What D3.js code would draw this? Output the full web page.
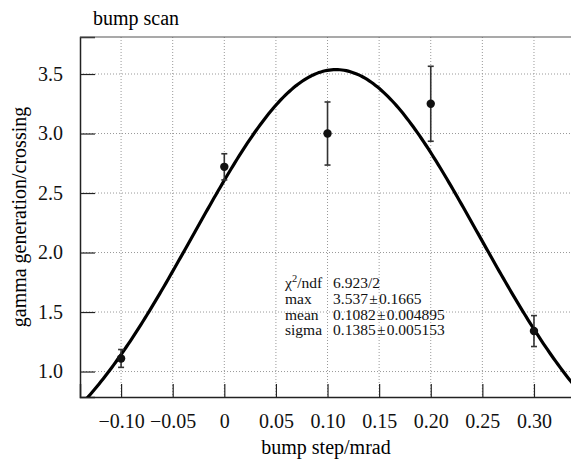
<!DOCTYPE html>
<html lang="en">
<head>
  <meta charset="UTF-8">
  <title>bump scan</title>
  <style>
    body { margin: 0; background: #fff; }
    svg, svg text { font-family: "Liberation Serif", "Times New Roman", "DejaVu Serif", serif; }
  </style>
</head>
<body>
  <script src="https://d3js.org/d3.v7.min.js"></script>
  <script>
    const SVGWIDTH = 571;
    const SVGHEIGHT = 462;
    const FONT = '"Liberation Serif", "Times New Roman", serif';
    const margin = {top: 37, right: -12, bottom: 65, left: 80};
    const innerWidth = SVGWIDTH - margin.left - margin.right;
    const innerHeight = SVGHEIGHT - margin.top - margin.bottom;

    // data
    const steps = [-0.10, 0.00, 0.10, 0.20, 0.30];
    const gammas = [1.11, 2.72, 3.00, 3.25, 1.34];
    const errors = [0.075, 0.11, 0.265, 0.315, 0.13];
    const xTicks = [-0.10, -0.05, 0, 0.05, 0.10, 0.15, 0.20, 0.25, 0.30];
    const xTickLabels = ['\u22120.10', '\u22120.05', '0', '0.05', '0.10', '0.15', '0.20', '0.25', '0.30'];
    const yTicks = [1.0, 1.5, 2.0, 2.5, 3.0, 3.5];
    const fitNames = ['max', 'mean', 'sigma'];
    const fitValues = [3.537, 0.1082, 0.1385];
    const fitErrors = ['0.1665', '0.004895', '0.005153'];
    const chi2ndf = '6.923/2';

    const [amp, mu, sigma] = fitValues;
    const gauss = (x) => amp * Math.exp(-0.5 * ((x - mu) / sigma) ** 2);

    const xScale = d3.scaleLinear().domain([-0.1398, 0.3475]).range([0, innerWidth]);
    const yScale = d3.scaleLinear().domain([0.786, 3.811]).range([innerHeight, 0]);

    const svg = d3.select('body').append('svg')
      .attr('width', SVGWIDTH)
      .attr('height', SVGHEIGHT)
      .attr('font-family', FONT);

    svg.append('text')
      .attr('x', 93).attr('y', 25)
      .attr('font-size', 20)
      .text('bump scan');

    const g = svg.append('g').attr('transform', `translate(${margin.left},${margin.top})`);

    // dotted grid
    g.selectAll('.vgrid').data(xTicks).enter().append('line')
      .attr('x1', d => xScale(d)).attr('x2', d => xScale(d))
      .attr('y1', 0).attr('y2', innerHeight)
      .attr('stroke', '#999').attr('stroke-width', 1).attr('stroke-dasharray', '1,2');
    g.selectAll('.hgrid').data(yTicks).enter().append('line')
      .attr('y1', d => yScale(d)).attr('y2', d => yScale(d))
      .attr('x1', 0).attr('x2', innerWidth)
      .attr('stroke', '#999').attr('stroke-width', 1).attr('stroke-dasharray', '1,2');

    // axes, ticks pointing inward
    const xAxis = d3.axisBottom(xScale).tickValues(xTicks).tickSize(-13)
      .tickFormat((d, i) => xTickLabels[i]).tickPadding(17);
    const yAxis = d3.axisLeft(yScale).tickValues(yTicks).tickSize(-15)
      .tickFormat(d3.format('.1f')).tickPadding(17);

    const xg = g.append('g').attr('transform', `translate(0,${innerHeight})`).call(xAxis);
    const yg = g.append('g').call(yAxis);
    [xg, yg].forEach(a => {
      a.attr('font-family', FONT);
      a.select('.domain').attr('stroke', '#222').attr('stroke-width', 1.5);
      a.selectAll('.tick line').attr('stroke', '#222').attr('stroke-width', 1.2);
      a.selectAll('.tick text').attr('font-size', 20).attr('fill', '#111');
    });

    // top border
    g.append('line').attr('x1', 0).attr('x2', innerWidth).attr('y1', 0).attr('y2', 0)
      .attr('stroke', '#555').attr('stroke-width', 1.2);

    // fit curve
    g.append('clipPath').attr('id', 'clip').append('rect')
      .attr('width', innerWidth).attr('height', innerHeight);
    const curveX = d3.range(0, 241).map(i => -0.1398 + (0.3475 + 0.1398) * i / 240);
    g.append('path')
      .datum(curveX)
      .attr('clip-path', 'url(#clip)')
      .attr('fill', 'none').attr('stroke', '#000').attr('stroke-width', 3.2)
      .attr('d', d3.line().x(d => xScale(d)).y(d => yScale(gauss(d))));

    // data points with error bars
    const pts = g.selectAll('.pt').data(steps).enter().append('g');
    pts.append('line')
      .attr('x1', d => xScale(d)).attr('x2', d => xScale(d))
      .attr('y1', (d, i) => yScale(gammas[i] + errors[i]))
      .attr('y2', (d, i) => yScale(gammas[i] - errors[i]))
      .attr('stroke', '#333').attr('stroke-width', 1.6);
    [1, -1].forEach(s => {
      pts.append('line')
        .attr('x1', d => xScale(d) - 3).attr('x2', d => xScale(d) + 3)
        .attr('y1', (d, i) => yScale(gammas[i] + s * errors[i]))
        .attr('y2', (d, i) => yScale(gammas[i] + s * errors[i]))
        .attr('stroke', '#333').attr('stroke-width', 1.6);
    });
    pts.append('circle')
      .attr('cx', d => xScale(d))
      .attr('cy', (d, i) => yScale(gammas[i]))
      .attr('r', 4.2).attr('fill', '#111');

    // axis titles
    svg.append('text')
      .attr('x', 326).attr('y', 454)
      .attr('text-anchor', 'middle').attr('font-size', 20)
      .text('bump step/mrad');
    svg.append('text')
      .attr('transform', 'translate(26,217) rotate(-90)')
      .attr('text-anchor', 'middle').attr('font-size', 20)
      .text('gamma generation/crossing');

    // fit statistics
    const stats = svg.append('g').attr('font-size', 15.5).attr('fill', '#111');
    const row0 = stats.append('text').attr('x', 285).attr('y', 288);
    row0.append('tspan').text('\u03c7');
    row0.append('tspan').attr('dy', -6).attr('font-size', 10.5).text('2');
    row0.append('tspan').attr('dy', 6).text('/ndf');
    stats.append('text').attr('x', 333).attr('y', 288).text(chi2ndf);
    fitNames.forEach((n, i) => {
      const y = 304 + i * 15.7;
      stats.append('text').attr('x', 285).attr('y', y).text(n);
      stats.append('text').attr('x', 333).attr('y', y)
        .text(`${fitValues[i]}\u200a\u00b1\u200a${fitErrors[i]}`);
    });
  </script>
</body>
</html>
